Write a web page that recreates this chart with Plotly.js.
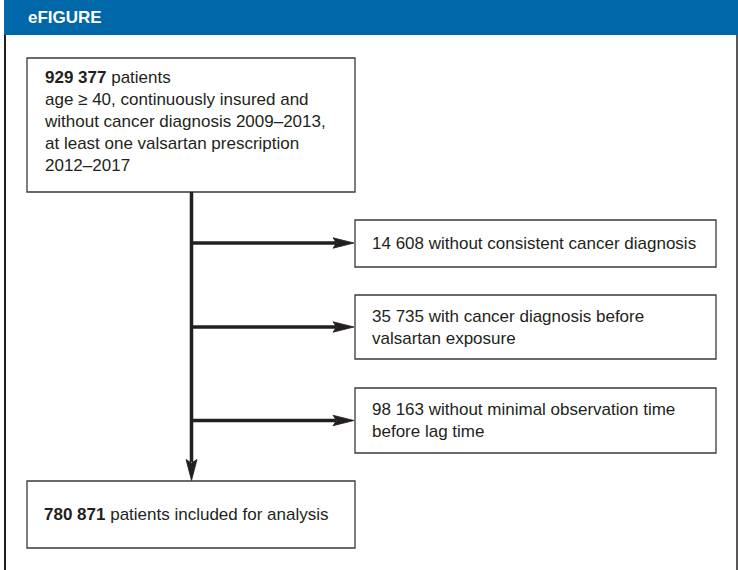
<!DOCTYPE html>
<html><head><meta charset="utf-8">
<script src="https://cdn.plot.ly/plotly-3.0.1.min.js"></script>
<style>html,body{margin:0;padding:0;background:#fff;}#chart{width:738px;height:570px;}</style>
</head><body><div id="chart"></div><script>
// ---- data ----
const headerTitle = "eFIGURE";
const counts = ["929 377", "14 608", "35 735", "98 163", "780 871"];
const countBold = [true, false, false, false, true];
const descriptions = [
  ["patients", "age \u2265 40, continuously insured and", "without cancer diagnosis 2009\u20132013,", "at least one valsartan prescription", "2012\u20132017"],
  ["without consistent cancer diagnosis"],
  ["with cancer diagnosis before", "valsartan exposure"],
  ["without minimal observation time", "before lag time"],
  ["patients included for analysis"]
];

// ---- layout geometry (pixels) ----
const boxes = [
  {x0: 27, x1: 355, y0: 58, y1: 192, tx: 42},
  {x0: 355, x1: 716, y0: 220, y1: 267, tx: 370},
  {x0: 355, x1: 716, y0: 295, y1: 359, tx: 370},
  {x0: 355, x1: 716, y0: 388, y1: 453, tx: 370},
  {x0: 27, x1: 355, y0: 481, y1: 548, tx: 42}
];
const spineX = 191.5;
const branchY = [243, 327, 420.5];
const FONT = "Liberation Sans, Arial, Helvetica, sans-serif";
const TXT = "#231f20";
const LINE = "#231f20";

const shapes = [];
const annotations = [];

// header
shapes.push({type: "rect", x0: 4, x1: 738, y0: 0, y1: 35, fillcolor: "#0067a9", line: {width: 0}, layer: "below"});
// frame sides
shapes.push({type: "line", x0: 5, x1: 5, y0: 35, y1: 570, line: {color: "#231f20", width: 2}});
shapes.push({type: "line", x0: 737, x1: 737, y0: 35, y1: 570, line: {color: "#231f20", width: 1.5}});

annotations.push({x: 26, y: 17.5, xref: "x", yref: "y", xanchor: "left", yanchor: "middle", showarrow: false,
  text: "<b>" + headerTitle + "</b>", font: {family: FONT, size: 17, color: "#ffffff"}});

// boxes + texts
boxes.forEach((b, i) => {
  shapes.push({type: "rect", x0: b.x0, x1: b.x1, y0: b.y0, y1: b.y1, line: {color: "#3a3a3a", width: 1.3}, fillcolor: "rgba(0,0,0,0)"});
  const c = countBold[i] ? "<b>" + counts[i] + "</b>" : counts[i];
  const lines = descriptions[i].slice();
  lines[0] = c + " " + lines[0];
  annotations.push({x: b.tx, y: (b.y0 + b.y1) / 2 - (i === 0 ? 4 : 0), xref: "x", yref: "y", xanchor: "left", yanchor: "middle",
    align: "left", showarrow: false, text: lines.join("<br>"), font: {family: FONT, size: 17, color: TXT}});
});

// spine
shapes.push({type: "line", x0: spineX, x1: spineX, y0: boxes[0].y1, y1: boxes[4].y0 - 19, line: {color: LINE, width: 3.5}});
shapes.push({type: "path", path: `M ${spineX} ${boxes[4].y0 - 0.5} L ${spineX - 5.5} ${boxes[4].y0 - 21.5} L ${spineX} ${boxes[4].y0 - 18} L ${spineX + 5.5} ${boxes[4].y0 - 21.5} Z`,
  fillcolor: LINE, line: {color: LINE, width: 0.8}});
// branches
branchY.forEach((y, k) => {
  const tip = boxes[k + 1].x0 - 1;
  shapes.push({type: "line", x0: spineX, x1: tip - 18, y0: y, y1: y, line: {color: LINE, width: 3.5}});
  shapes.push({type: "path", path: `M ${tip} ${y} L ${tip - 21} ${y - 5.2} L ${tip - 17.5} ${y} L ${tip - 21} ${y + 5.2} Z`,
    fillcolor: LINE, line: {color: LINE, width: 0.8}});
});

const layout = {
  width: 738, height: 570, margin: {l: 0, r: 0, t: 0, b: 0},
  paper_bgcolor: "#ffffff", plot_bgcolor: "#ffffff",
  xaxis: {range: [0, 738], visible: false, fixedrange: true},
  yaxis: {range: [570, 0], visible: false, fixedrange: true},
  showlegend: false, shapes: shapes, annotations: annotations
};
Plotly.newPlot("chart", [], layout, {staticPlot: true, displayModeBar: false});
</script></body></html>
